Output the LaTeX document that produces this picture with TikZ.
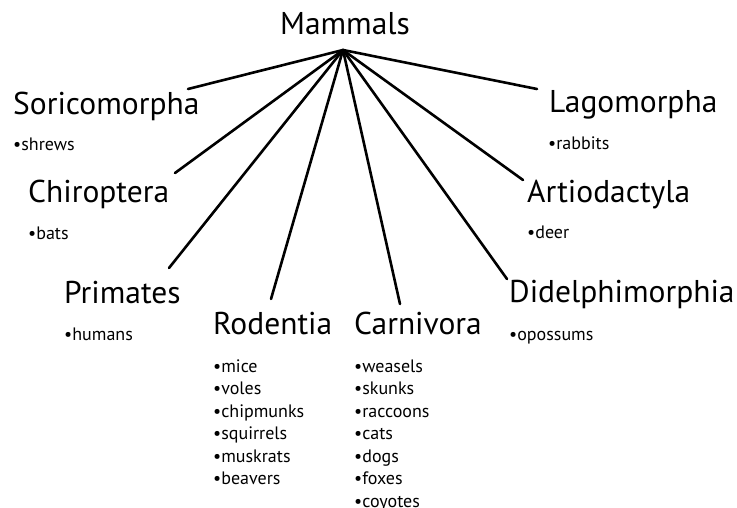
\documentclass[tikz,border=0pt]{standalone}
\usepackage{fontspec}
\setmainfont{PT Sans}
\begin{document}
\begin{tikzpicture}[x=1pt,y=-1pt,
  order/.style={anchor=base west,inner sep=0pt,font=\fontsize{31.5}{36}\selectfont},
  title/.style={anchor=base,inner sep=0pt,font=\fontsize{31.5}{36}\selectfont},
  item/.style={anchor=base west,inner sep=0pt,font=\fontsize{18}{22}\selectfont},
  link/.style={line width=2.6pt,line cap=round}]
\useasboundingbox (0,0) rectangle (737,508);
\node[title] (mam) at (345,35) {Mammals};
\coordinate (hub) at (343,50);
\node[order] (sor) at (13,115) {Soricomorpha};
\node[item] (sor1) at (13,151) {•shrews};
\node[order] (chi) at (28,203) {Chiroptera};
\node[item] (chi1) at (28,240) {•bats};
\node[order] (pri) at (64,303) {Primates};
\node[item] (pri1) at (64,340) {•humans};
\node[order] (rod) at (213,334) {Rodentia};
\foreach \t [count=\i] in {mice,voles,chipmunks,squirrels,muskrats,beavers}
  \node[item] (rod\i) at (213,{372+22.5*(\i-1)}) {•\t};
\node[order] (car) at (354,334) {Carnivora};
\foreach \t [count=\i] in {weasels,skunks,raccoons,cats,dogs,foxes,coyotes}
  \node[item] (car\i) at (354,{372+22.5*(\i-1)}) {•\t};
\node[order] (lag) at (549,113) {Lagomorpha};
\node[item] (lag1) at (548,150) {•rabbits};
\node[order] (art) at (527,203) {Artiodactyla};
\node[item] (art1) at (527,239) {•deer};
\node[order] (did) at (509,302) {Didelphimorphia};
\node[item] (did1) at (509,340) {•opossums};
\coordinate (esor) at (188,89);
\coordinate (echi) at (175,173);
\coordinate (epri) at (169,268);
\coordinate (erod) at (271,299);
\coordinate (ecar) at (400,304);
\coordinate (edid) at (507,279);
\coordinate (eart) at (523,180);
\coordinate (elag) at (537,89);
\foreach \e in {esor,echi,epri,erod,ecar,edid,eart,elag}
  \draw[link] (hub) -- (\e);
\end{tikzpicture}
\end{document}
